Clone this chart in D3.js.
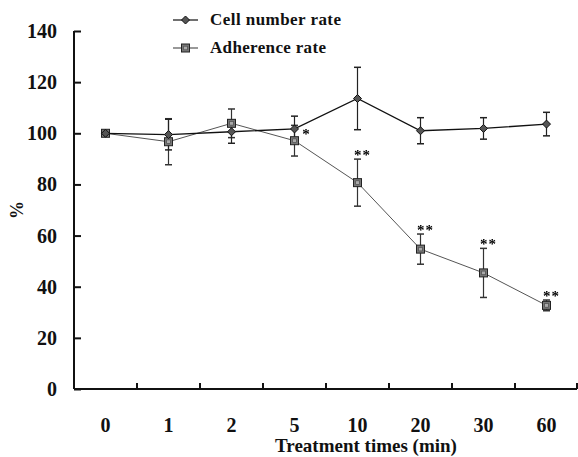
<!DOCTYPE html>
<html>
<head>
<meta charset="utf-8">
<script src="https://cdn.jsdelivr.net/npm/d3@7/dist/d3.min.js"></script>
<style>
  body { margin: 0; background: #fff; }
  text { font-family: "Liberation Serif", "Times New Roman", serif; font-weight: bold; fill: #111; }
</style>
</head>
<body>
<div class="board"></div>
<script>
var WIDTH = 578;
var HEIGHT = 457;

var categories = ['0', '1', '2', '5', '10', '20', '30', '60'];
var cellRate = [100, 99.5, 100.6, 101.7, 113.6, 101, 101.9, 103.6];
var cellErr = [0.8, 6, 4.5, 5, 12.2, 5.1, 4.2, 4.6];
var adhRate = [100, 96.7, 103.9, 97.1, 80.7, 54.7, 45.4, 32.7];
var adhErr = [0.8, 9, 5.6, 6, 9.2, 5.9, 9.6, 2.1];
var marks = ['', '', '', '*', '**', '**', '**', '**'];
var yTicks = [0, 20, 40, 60, 80, 100, 120, 140];

var plotLeft = 74, plotRight = 578, plotTop = 31, plotBottom = 389;

var svg = d3.select('.board')
  .append('svg')
  .attr('width', WIDTH)
  .attr('height', HEIGHT);

var x = d3.scaleBand().domain(categories).range([plotLeft, plotRight]);
var y = d3.scaleLinear().domain([0, 140]).range([plotBottom, plotTop]);
var cx = function(c) { return x(c) + x.bandwidth() / 2; };

// y axis
var yAxis = svg.append('g')
  .attr('transform', 'translate(' + plotLeft + ',0)')
  .call(d3.axisRight(y).tickValues(yTicks).tickSize(7).tickFormat(''));
yAxis.select('.domain').attr('stroke', '#111').attr('stroke-width', 2).attr('d', 'M0,' + plotTop + 'V' + plotBottom);
yAxis.selectAll('.tick line').attr('stroke', '#111').attr('stroke-width', 2);

svg.selectAll('.ylab')
  .data(yTicks)
  .enter()
  .append('text')
  .attr('class', 'ylab')
  .attr('x', 57)
  .attr('y', function(d) { return y(d) + 7; })
  .attr('text-anchor', 'end')
  .attr('font-size', 20)
  .text(function(d) { return d; });

// x axis, ticks between categories
var xTicks = categories.slice(1).map(function(c) { return x(c); }).concat([plotRight - 1]);
svg.append('path')
  .attr('d', 'M' + plotLeft + ',' + plotBottom + 'H' + (plotRight - 1))
  .attr('stroke', '#111')
  .attr('stroke-width', 2);
svg.selectAll('.xtick')
  .data(xTicks)
  .enter()
  .append('line')
  .attr('class', 'xtick')
  .attr('x1', function(d) { return d; })
  .attr('x2', function(d) { return d; })
  .attr('y1', plotBottom)
  .attr('y2', plotBottom - 6)
  .attr('stroke', '#111')
  .attr('stroke-width', 2);

svg.selectAll('.xlab')
  .data(categories)
  .enter()
  .append('text')
  .attr('class', 'xlab')
  .attr('x', function(d) { return cx(d); })
  .attr('y', 432)
  .attr('text-anchor', 'middle')
  .attr('font-size', 20)
  .text(function(d) { return d; });

svg.append('text')
  .attr('x', 366)
  .attr('y', 452)
  .attr('text-anchor', 'middle')
  .attr('font-size', 19)
  .text('Treatment times (min)');

svg.append('text')
  .attr('transform', 'translate(23,210) rotate(-90)')
  .attr('text-anchor', 'middle')
  .attr('font-size', 18)
  .text('%');

// error bars
var drawErrors = function(vals, errs, color) {
  var g = svg.append('g');
  categories.forEach(function(c, i) {
    var px = cx(c);
    var y0 = y(vals[i] - errs[i]);
    var y1 = y(vals[i] + errs[i]);
    g.append('line').attr('x1', px).attr('x2', px).attr('y1', y0).attr('y2', y1)
      .attr('stroke', color).attr('stroke-width', 1.2);
    [y0, y1].forEach(function(yy) {
      g.append('line').attr('x1', px - 3.5).attr('x2', px + 3.5).attr('y1', yy).attr('y2', yy)
        .attr('stroke', color).attr('stroke-width', 1.5);
    });
  });
};
drawErrors(adhRate, adhErr, '#333');
drawErrors(cellRate, cellErr, '#222');

var line = function(vals) {
  return d3.line()
    .x(function(d, i) { return cx(categories[i]); })
    .y(function(d) { return y(d); })(vals);
};

svg.append('path')
  .attr('d', line(adhRate))
  .attr('fill', 'none')
  .attr('stroke', '#555')
  .attr('stroke-width', 1);

svg.append('path')
  .attr('d', line(cellRate))
  .attr('fill', 'none')
  .attr('stroke', '#111')
  .attr('stroke-width', 1.3);

var square = function(g, px, py) {
  g.append('rect').attr('x', px - 4).attr('y', py - 4).attr('width', 8).attr('height', 8)
    .attr('fill', '#777').attr('stroke', '#222').attr('stroke-width', 1);
  g.append('rect').attr('x', px - 1.8).attr('y', py - 1.8).attr('width', 3.6).attr('height', 3.6)
    .attr('fill', '#aaa').attr('stroke', '#444').attr('stroke-width', 0.6);
};
var diamond = function(g, px, py) {
  g.append('path')
    .attr('d', 'M' + px + ',' + (py - 4) + 'L' + (px + 4) + ',' + py + 'L' + px + ',' + (py + 4) + 'L' + (px - 4) + ',' + py + 'Z')
    .attr('fill', '#555').attr('stroke', '#111').attr('stroke-width', 1);
};

var pts = svg.append('g');
categories.forEach(function(c, i) { square(pts, cx(c), y(adhRate[i])); });
categories.forEach(function(c, i) { diamond(pts, cx(c), y(cellRate[i])); });

// significance marks, greyscale filter to drop colour fringes
svg.append('g')
  .style('filter', 'grayscale(1)')
  .selectAll('.sig')
  .data(categories)
  .enter()
  .append('text')
  .attr('class', 'sig')
  .attr('x', function(c, i) { return marks[i] === '*' ? cx(c) + 12 : cx(c) + 5; })
  .attr('y', function(c, i) {
    return marks[i] === '*' ? y(cellRate[i]) + 10 : y(adhRate[i] + adhErr[i]) + 1;
  })
  .attr('text-anchor', 'middle')
  .attr('font-size', 15)
  .attr('letter-spacing', 1)
  .attr('font-weight', 'normal')
  .style('fill', '#000')
  .text(function(c, i) { return marks[i]; });

// legend
var legend = [
  { name: 'Cell number rate', y: 20, draw: diamond, color: '#111', len: 131 },
  { name: 'Adherence rate', y: 48, draw: square, color: '#555', len: 116 }
];
legend.forEach(function(l) {
  svg.append('line').attr('x1', 173).attr('x2', 198).attr('y1', l.y).attr('y2', l.y)
    .attr('stroke', l.color).attr('stroke-width', 1.2);
  l.draw(svg, 185.5, l.y);
  svg.append('text')
    .attr('x', 210)
    .attr('y', l.y + 5)
    .attr('font-size', 17)
    .attr('textLength', l.len)
    .attr('lengthAdjust', 'spacing')
    .text(l.name);
});
</script>
</body>
</html>
